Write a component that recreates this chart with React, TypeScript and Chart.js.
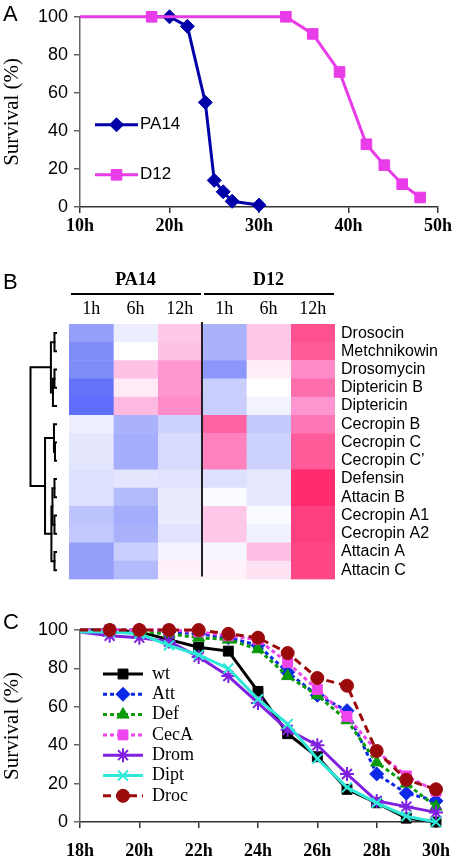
import React, { useEffect, useRef } from 'react';
import { Chart, registerables } from 'chart.js';
import { drawPoint } from 'chart.js/helpers';

Chart.register(...registerables);

const SANS = '"Liberation Sans", Arial, sans-serif';
const SERIF = '"Liberation Serif", "Times New Roman", serif';

// ---------- Panel A ----------
const hoursPA14 = [18, 20, 22, 24, 25, 26, 27, 30];
const survPA14 = [100, 100, 95, 55, 14, 8, 3, 1];
const hoursD12 = [10, 18, 33, 36, 39, 42, 44, 46, 48];
const survD12 = [100, 100, 100, 91, 71, 33, 22, 12, 5];
const ticksA = [10, 20, 30, 40, 50];

// ---------- Panel B ----------
const genes = [
  'Drosocin', 'Metchnikowin', 'Drosomycin', 'Diptericin B', 'Diptericin',
  'Cecropin B', 'Cecropin C', 'Cecropin C\u2019', 'Defensin', 'Attacin B',
  'Cecropin A1', 'Cecropin A2', 'Attacin A', 'Attacin C',
];
const groups = ['PA14', 'D12'];
const timepoints = ['1h', '6h', '12h', '1h', '6h', '12h'];
const pa14_1h = [-0.66, -0.79, -0.79, -0.97, -1, -0.11, -0.17, -0.17, -0.21, -0.21, -0.41, -0.38, -0.66, -0.66];
const pa14_6h = [-0.12, 0, 0.29, 0.1, 0.33, -0.53, -0.56, -0.56, -0.17, -0.47, -0.56, -0.53, -0.34, -0.47];
const pa14_12h = [0.26, 0.29, 0.5, 0.5, 0.55, -0.31, -0.25, -0.25, -0.19, -0.14, -0.14, -0.19, -0.08, 0.07];
const d12_1h = [-0.53, -0.53, -0.72, -0.34, -0.34, 0.73, 0.59, 0.59, -0.21, -0.03, 0.26, 0.26, -0.06, 0.07];
const d12_6h = [0.26, 0.26, 0.08, 0, -0.08, -0.37, -0.31, -0.31, -0.16, -0.16, -0.03, -0.1, 0.31, 0.14];
const d12_12h = [0.82, 0.77, 0.55, 0.68, 0.5, 0.64, 0.77, 0.77, 0.98, 0.98, 0.89, 0.89, 0.86, 0.86];
const cellSpan = 1;
// dendrogram merges: [childA, childB, height]; leaves are 0..13, merges are 14..
const dendroMerges: [number, number, number][] = [
  [0, 1, 0.06], [2, 3, 0.06], [15, 4, 0.12], [14, 16, 0.2],
  [6, 7, 0.04], [5, 18, 0.08], [8, 9, 0.06], [10, 11, 0.06], [12, 13, 0.06],
  [20, 21, 0.14], [23, 22, 0.18], [19, 24, 0.43], [17, 25, 1.0],
];

// ---------- Panel C ----------
const hoursC = [18, 19, 20, 21, 22, 23, 24, 25, 26, 27, 28, 29, 30];
const survWt = [100, 100, 99, 95, 91, 89, 68, 46, 34, 17, 10, 2, 0];
const survAtt = [100, 100, 100, 99, 98, 96, 92, 78, 66, 58, 25, 15, 11];
const survDef = [100, 100, 99, 98, 96, 95, 90, 76, 66, 53, 31, 20, 8];
const survCecA = [100, 100, 100, 100, 99, 97, 95, 83, 69, 55, 37, 24, 16];
const survDrom = [99, 97, 96, 94, 86, 76, 62, 48, 40, 25, 11, 8, 5];
const survDipt = [99, 99, 98, 92, 87, 80, 64, 51, 33, 18, 10, 3, 0];
const survDroc = [100, 100, 100, 100, 100, 98, 96, 88, 75, 71, 37, 22, 17];
const ticksC = [18, 20, 22, 24, 26, 28, 30];

function heatColor(v: number): string {
  if (v < 0) {
    const t = Math.min(1, -v);
    return `rgb(${Math.round(255 - 160 * t)},${Math.round(255 - 145 * t)},${Math.round(255 - 5 * t)})`;
  }
  const t = Math.min(1, v);
  if (t <= 0.5) {
    const s = t / 0.5;
    return `rgb(255,${Math.round(255 - 105 * s)},${Math.round(255 - 45 * s)})`;
  }
  const s = (t - 0.5) / 0.5;
  return `rgb(255,${Math.round(150 - 110 * s)},${Math.round(210 - 105 * s)})`;
}

function letterPlugin(letter: string, x: number, y: number) {
  return {
    id: 'letter',
    afterDraw(chart: any) {
      const ctx = chart.ctx;
      ctx.save();
      ctx.fillStyle = '#000';
      ctx.font = `22px ${SANS}`;
      ctx.textBaseline = 'middle';
      ctx.textAlign = 'left';
      ctx.fillText(letter, x, y);
      ctx.restore();
    },
  };
}

function legendPlugin(o: { x0: number; x1: number; tx: number; y0: number; dy: number; font: string; radius: number[] }) {
  return {
    id: 'customLegend',
    afterDatasetsDraw(chart: any) {
      const { ctx, chartArea } = chart;
      ctx.save();
      chart.data.datasets.forEach((d: any, i: number) => {
        const y = chartArea.top + o.y0 + i * o.dy;
        const x0 = chartArea.left + o.x0;
        const x1 = chartArea.left + o.x1;
        ctx.strokeStyle = d.borderColor;
        ctx.lineWidth = d.borderWidth;
        ctx.setLineDash(d.borderDash || []);
        ctx.beginPath();
        ctx.moveTo(x0, y);
        ctx.lineTo(x1, y);
        ctx.stroke();
        ctx.setLineDash([]);
        ctx.fillStyle = d.pointBackgroundColor;
        ctx.strokeStyle = d.pointBorderColor;
        ctx.lineWidth = d.pointBorderWidth;
        drawPoint(ctx, { pointStyle: d.pointStyle, rotation: 0, radius: o.radius[i], borderWidth: d.pointBorderWidth } as any, (x0 + x1) / 2, y);
        ctx.fillStyle = '#000';
        ctx.font = o.font;
        ctx.textBaseline = 'middle';
        ctx.textAlign = 'left';
        ctx.fillText(d.label, chartArea.left + o.tx, y);
      });
      ctx.restore();
    },
  };
}

const heatPlugin = {
  id: 'heatDecor',
  afterDraw(chart: any) {
    const { ctx, chartArea, scales } = chart;
    const xs = scales.x;
    const ys = scales.y;
    ctx.save();
    // group headers
    groups.forEach((g, gi) => {
      const x0 = xs.getPixelForValue(gi * 3);
      const x1 = xs.getPixelForValue(gi * 3 + 3);
      ctx.fillStyle = '#000';
      ctx.font = `bold 18px ${SERIF}`;
      ctx.textAlign = 'center';
      ctx.textBaseline = 'middle';
      ctx.fillText(g, (x0 + x1) / 2, chartArea.top - 44);
      ctx.strokeStyle = '#000';
      ctx.lineWidth = 2;
      ctx.beginPath();
      ctx.moveTo(x0 + 2, chartArea.top - 30);
      ctx.lineTo(x1 - 1, chartArea.top - 30);
      ctx.stroke();
    });
    // divider
    const xd = xs.getPixelForValue(3);
    ctx.strokeStyle = '#222';
    ctx.lineWidth = 2;
    ctx.beginPath();
    ctx.moveTo(xd, chartArea.top - 2);
    ctx.lineTo(xd, chartArea.bottom - 3);
    ctx.stroke();
    // dendrogram
    const leafX = chartArea.left - 13;
    const span = 25.5;
    const nx: number[] = [];
    const ny: number[] = [];
    genes.forEach((_, i) => { nx[i] = leafX; ny[i] = ys.getPixelForValue(i); });
    ctx.strokeStyle = '#000';
    ctx.lineWidth = 2;
    ctx.lineCap = 'square';
    dendroMerges.forEach(([a, b, h], k) => {
      const id = genes.length + k;
      const x = leafX - h * span;
      ctx.beginPath();
      ctx.moveTo(nx[a], ny[a]);
      ctx.lineTo(x, ny[a]);
      ctx.lineTo(x, ny[b]);
      ctx.lineTo(nx[b], ny[b]);
      ctx.stroke();
      nx[id] = x;
      ny[id] = (ny[a] + ny[b]) / 2;
    });
    ctx.restore();
  },
};

function lineAxes(ticks: number[], xmin: number, xmax: number, xHeight: number, xPad: number) {
  const axisColor = '#666';
  return {
    x: {
      type: 'linear',
      min: xmin,
      max: xmax,
      afterBuildTicks: (s: any) => { s.ticks = ticks.map((v) => ({ value: v })); },
      ticks: {
        callback: (v: any) => `${v}h`,
        font: { family: SERIF, size: 18, weight: 'bold' },
        color: '#000',
        padding: xPad,
        maxRotation: 0,
        autoSkip: false,
      },
      grid: { display: true, drawOnChartArea: false, drawTicks: true, tickLength: 6, color: '#333', lineWidth: 1.5 },
      border: { display: true, color: '#333', width: 1.5 },
      afterFit: (s: any) => { s.height = xHeight; },
    },
    y: {
      min: 0,
      max: 100,
      ticks: { stepSize: 20, font: { family: SANS, size: 18 }, color: '#000', padding: 6 },
      grid: { display: true, drawOnChartArea: false, drawTicks: true, tickLength: 6, color: axisColor, lineWidth: 1.5 },
      border: { display: true, color: axisColor, width: 1.5 },
      title: { display: true, text: 'Survival (%)', font: { family: SERIF, size: 21 }, color: '#000', padding: { top: 0, bottom: 0 } },
      afterFit: (s: any) => { s.width = 80; },
    },
  };
}

function series(label: string, xs: number[], ys: number[], color: string, style: string, r: number, dash: number[], order: number, lineStyle = false) {
  return {
    label,
    data: xs.map((x, i) => ({ x, y: ys[i] })),
    borderColor: color,
    backgroundColor: color,
    borderWidth: 3,
    borderDash: dash,
    pointStyle: style,
    pointRadius: (c: any) => (c.dataIndex === 0 ? 0 : r),
    pointBackgroundColor: color,
    pointBorderColor: color,
    pointBorderWidth: lineStyle ? 2 : 1,
    tension: 0,
    clip: false,
    order,
  };
}

export default function App() {
  const refA = useRef<HTMLCanvasElement>(null);
  const refB = useRef<HTMLCanvasElement>(null);
  const refC = useRef<HTMLCanvasElement>(null);

  useEffect(() => {
    const charts: Chart[] = [];

    charts.push(new Chart(refA.current!, {
      type: 'line',
      data: {
        datasets: [
          series('PA14', hoursPA14, survPA14, '#0000A8', 'rectRot', 7, [], 1),
          series('D12', hoursD12, survD12, '#E83CE8', 'rect', 7.5, [], 0),
        ] as any,
      },
      options: {
        responsive: false,
        animation: false,
        events: [],
        layout: { padding: { top: 14, right: 25, left: 0, bottom: 0 } },
        plugins: { legend: { display: false }, tooltip: { enabled: false } },
        scales: lineAxes(ticksA, 10, 50, 43, 3) as any,
      },
      plugins: [
        legendPlugin({ x0: 15, x1: 58, tx: 60, y0: 108, dy: 50, font: `17px ${SANS}`, radius: [7, 7.5] }),
        letterPlugin('A', 3, 15),
      ],
    }));

    const columns = [pa14_1h, pa14_6h, pa14_12h, d12_1h, d12_6h, d12_12h];
    charts.push(new Chart(refB.current!, {
      type: 'bar',
      data: {
        labels: genes,
        datasets: columns.map((col) => ({
          data: genes.map(() => cellSpan),
          backgroundColor: col.map(heatColor),
          borderWidth: 0,
          barPercentage: 1,
          categoryPercentage: 1,
          stack: 's',
        })),
      },
      options: {
        indexAxis: 'y',
        responsive: false,
        animation: false,
        events: [],
        layout: { padding: { left: 69, top: 34, bottom: 7, right: 0 } },
        plugins: { legend: { display: false }, tooltip: { enabled: false } },
        scales: {
          x: {
            type: 'linear',
            position: 'top',
            stacked: true,
            min: 0,
            max: 6,
            afterBuildTicks: (s: any) => { s.ticks = timepoints.map((_, i) => ({ value: i + 0.5 })); },
            ticks: {
              callback: (_v: any, i: number) => timepoints[i],
              font: { family: SERIF, size: 18 },
              color: '#000',
              padding: 4,
              maxRotation: 0,
              autoSkip: false,
            },
            grid: { display: false, drawTicks: false },
            border: { display: false },
            afterFit: (s: any) => { s.height = 40; },
          },
          y: {
            type: 'category',
            position: 'right',
            stacked: true,
            ticks: { font: { family: SANS, size: 16 }, color: '#000', padding: 6, autoSkip: false },
            grid: { display: false, drawTicks: false },
            border: { display: false },
            afterFit: (s: any) => { s.width = 128; },
          },
        } as any,
      },
      plugins: [heatPlugin, letterPlugin('B', 3, 33)],
    }));

    const n = 7;
    charts.push(new Chart(refC.current!, {
      type: 'line',
      data: {
        datasets: [
          series('wt', hoursC, survWt, '#000000', 'rect', 7, [], n - 0),
          series('Att', hoursC, survAtt, '#0A28E6', 'rectRot', 7, [4, 3], n - 1),
          series('Def', hoursC, survDef, '#0A9A0A', 'triangle', 7, [4, 3], n - 2),
          series('CecA', hoursC, survCecA, '#EE44EE', 'rect', 7, [4, 3], n - 3),
          series('Drom', hoursC, survDrom, '#8020E0', 'star', 7, [], n - 4, true),
          series('Dipt', hoursC, survDipt, '#30E8D8', 'crossRot', 7, [], n - 5, true),
          series('Droc', hoursC, survDroc, '#9A0A0A', 'circle', 6.5, [8, 5], n - 6),
        ] as any,
      },
      options: {
        responsive: false,
        animation: false,
        events: [],
        layout: { padding: { top: 35, right: 25, left: 0, bottom: 0 } },
        plugins: { legend: { display: false }, tooltip: { enabled: false } },
        scales: lineAxes(ticksC, 18, 30, 41, 13) as any,
      },
      plugins: [
        legendPlugin({ x0: 23, x1: 63, tx: 72, y0: 44, dy: 20.3, font: `18px ${SERIF}`, radius: [7, 7, 7, 7, 7, 7, 6.5] }),
        letterPlugin('C', 3, 28),
      ],
    }));

    return () => { charts.forEach((c) => c.destroy()); };
  }, []);

  const abs = (top: number, h: number): React.CSSProperties => ({ position: 'absolute', left: 0, top, width: 463, height: h });
  return (
    <div style={{ position: 'fixed', left: 0, top: 0, width: 463, height: 863, background: '#fff' }}>
      <canvas ref={refA} width={463} height={250} style={abs(0, 250)} />
      <canvas ref={refB} width={463} height={345} style={abs(250, 345)} />
      <canvas ref={refC} width={463} height={268} style={abs(595, 268)} />
    </div>
  );
}
